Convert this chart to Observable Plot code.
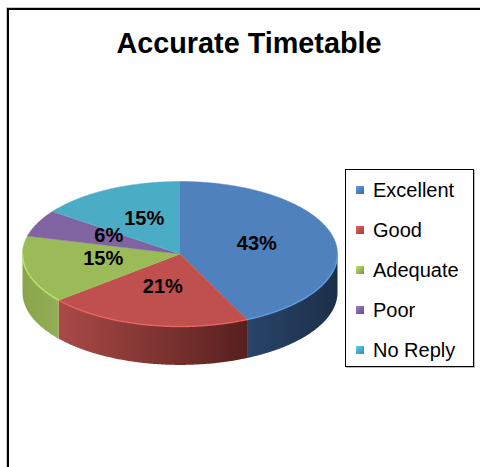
<!DOCTYPE html>
<html>
<head>
<meta charset="utf-8">
<script src="https://cdn.jsdelivr.net/npm/d3@7"></script>
<script src="https://cdn.jsdelivr.net/npm/@observablehq/plot@0.6"></script>
<style>
  html, body { margin: 0; padding: 0; background: #fff; overflow: hidden; }
  #chart { position: relative; width: 480px; height: 467px; overflow: hidden;
           font-family: "Liberation Sans", Arial, sans-serif; }
  #frame { position: absolute; left: 7px; top: 8px; width: 700px; height: 700px;
           border-left: 2px solid #000; border-top: 2px solid #000;
           box-shadow: -1px -1px 0 #c8c8c8; }
  #pie { position: absolute; left: 0; top: 0; }
  #title { position: absolute; left: 0; top: 29px; width: 498px; text-align: center;
           font-weight: bold; font-size: 28.8px; line-height: 28px; color: #000; }
  #legend { position: absolute; left: 345px; top: 169px; width: 127px; height: 196px;
            border: 1.5px solid #000; background: #fff; box-shadow: 1px 1px 0 #bbb; }
  #legend .item { position: absolute; left: 0; height: 40px; line-height: 40px;
                  font-size: 20px; color: #000; white-space: nowrap; }
  #legend .sw { position: absolute; left: 10px; top: 16px; width: 8px; height: 8px; }
  #legend .lab { position: absolute; left: 27px; top: 0; }
</style>
</head>
<body>
<div id="chart">
  <div id="frame"></div>
  <div id="title">Accurate Timetable</div>
  <div id="pie"></div>
  <div id="legend"></div>
</div>
<script>
// Survey answers: "Accurate Timetable"
const categories = ["Excellent", "Good", "Adequate", "Poor", "No Reply"];
const shares = [43, 21, 15, 6, 15];
const topColors = ["#4F81BD", "#C0504D", "#9BBB59", "#8064A2", "#4BACC6"];
const wallLight = ["#29446a", "#a94a47", "#8aa44c", "#6a5388", "#3e91a8"];
const wallDark  = ["#1c2f48", "#57201e", "#94ae55", "#4e3d66", "#2c6d80"];

// 3D pie geometry in unit space: rim is the unit circle seen at a tilt,
// the side wall drops by `depth` units.
const depth = 0.53;
const step = Math.PI / 360;

const arcs = d3.pie().sort(null).value(d => d)(shares);

const topFaces = [];
const walls = [];
const rims = [];
const labels = [];
arcs.forEach((a, i) => {
  topFaces.push({i, x: 0, y: 0});
  const n = Math.max(2, Math.ceil((a.endAngle - a.startAngle) / step));
  for (let k = 0; k <= n; ++k) {
    const t = a.startAngle + (a.endAngle - a.startAngle) * k / n;
    topFaces.push({i, x: Math.sin(t), y: Math.cos(t)});
  }
  // outer wall is visible on the front half only
  const s = Math.max(a.startAngle, Math.PI / 2);
  const e = Math.min(a.endAngle, 3 * Math.PI / 2);
  if (s < e) {
    const m = Math.max(2, Math.ceil((e - s) / step));
    const rim = [];
    for (let k = 0; k <= m; ++k) rim.push(s + (e - s) * k / m);
    rim.forEach(t => walls.push({i, x: Math.sin(t), y: Math.cos(t)}));
    rim.slice().reverse().forEach(t => walls.push({i, x: Math.sin(t), y: Math.cos(t) - depth}));
    rim.forEach(t => rims.push({i, x: Math.sin(t), y: Math.cos(t)}));
  }
  const mid = (a.startAngle + a.endAngle) / 2;
  labels.push({i, x: 0.5 * Math.sin(mid), y: 0.5 * Math.cos(mid) + 0.04, text: `${shares[i]}%`});
});

const marks = [];
categories.forEach((c, i) => {
  const w = walls.filter(d => d.i === i);
  if (w.length) marks.push(Plot.line(w, {x: "x", y: "y", fill: `url(#wall${i})`, stroke: "none", curve: "linear"}));
});
categories.forEach((c, i) => {
  marks.push(Plot.line(topFaces.filter(d => d.i === i), {x: "x", y: "y", fill: topColors[i], stroke: topColors[i], strokeWidth: 0.5, curve: "linear"}));
});
// soft bevel highlight along the front rim
categories.forEach((c, i) => {
  const r = rims.filter(d => d.i === i);
  if (r.length) marks.push(Plot.line(r, {x: "x", y: "y", stroke: d3.color(topColors[i]).brighter(0.7).formatHex(), strokeWidth: 1.5, strokeOpacity: 0.7, curve: "linear"}));
});
marks.push(Plot.text(labels, {x: "x", y: "y", text: "text", fill: "#000", fontSize: 20, fontWeight: "bold",
  fontFamily: "Liberation Sans, Arial, sans-serif", textAnchor: "middle"}));

const svg = Plot.plot({
  width: 480,
  height: 467,
  margin: 0,
  x: {domain: [-1, 1], range: [22, 337], axis: null},
  y: {domain: [-1, 1], range: [326, 181], axis: null},
  style: {background: "transparent", overflow: "visible"},
  marks
});

// horizontal shading for the side walls
const defs = d3.select(svg).insert("defs", ":first-child");
categories.forEach((c, i) => {
  const g = defs.append("linearGradient").attr("id", `wall${i}`)
    .attr("x1", 0).attr("x2", 1).attr("y1", 0).attr("y2", 0);
  g.append("stop").attr("offset", 0).attr("stop-color", wallLight[i]);
  g.append("stop").attr("offset", 1).attr("stop-color", wallDark[i]);
});

document.getElementById("pie").appendChild(svg);

// legend
const legend = d3.select("#legend");
categories.forEach((c, i) => {
  const item = legend.append("div").attr("class", "item").style("top", `${i * 40}px`);
  item.append("div").attr("class", "sw")
    .style("background", `linear-gradient(135deg, ${d3.color(topColors[i]).brighter(0.6)}, ${topColors[i]} 50%, ${d3.color(topColors[i]).darker(0.6)})`);
  item.append("span").attr("class", "lab").text(c);
});
</script>
</body>
</html>
